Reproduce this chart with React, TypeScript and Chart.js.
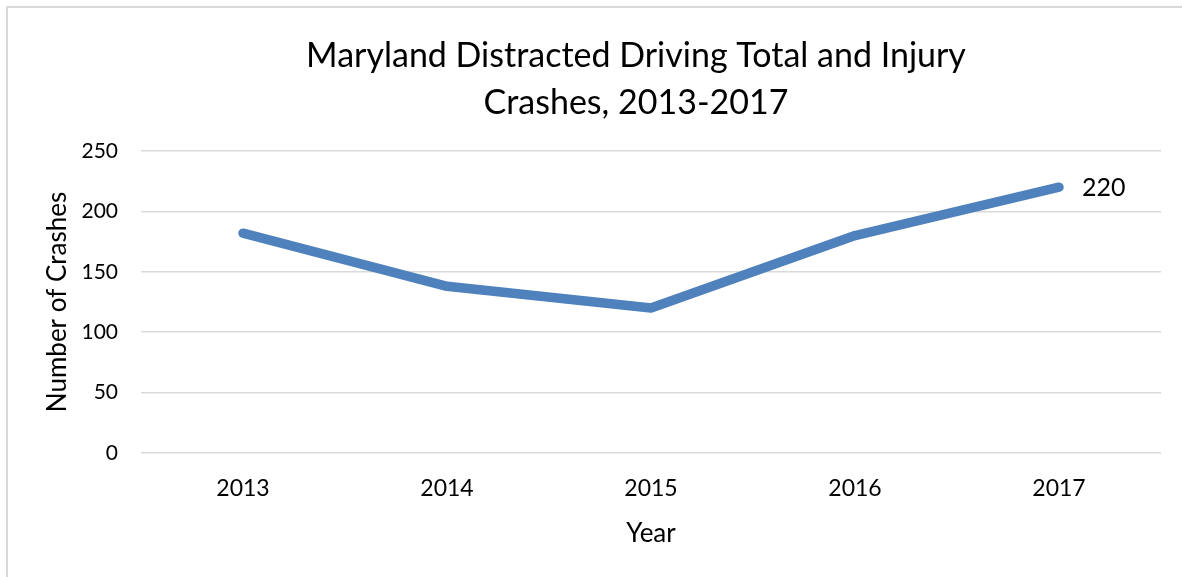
import React, { useEffect, useRef } from "react";
import { Chart, registerables } from "chart.js";

Chart.register(...registerables);

const years = ["2013", "2014", "2015", "2016", "2017"];
const crashes = [182, 138, 120, 180, 220];
const titleLines = ["Maryland Distracted Driving Total and Injury", "Crashes, 2013-2017"];
const yTitle = "Number of Crashes";
const xTitle = "Year";

const FONT = "Lato, 'Open Sans', sans-serif";

const frame = {
  id: "frame",
  beforeDraw(chart: any) {
    const ctx = chart.ctx;
    ctx.save();
    ctx.fillStyle = "#ffffff";
    ctx.fillRect(0, 0, chart.width, chart.height);
    ctx.strokeStyle = "#d9d9d9";
    ctx.lineWidth = 2;
    ctx.strokeRect(7, 7, chart.width + 20, chart.height + 20);
    ctx.restore();
  },
};

const chartTitle = {
  id: "chartTitle",
  afterDraw(chart: any) {
    const ctx = chart.ctx;
    ctx.save();
    ctx.font = `34px ${FONT}`;
    ctx.fillStyle = "#000";
    ctx.textAlign = "center";
    ctx.textBaseline = "middle";
    ctx.fillText(titleLines[0], 636, 56.5);
    ctx.fillText(titleLines[1], 636, 103.5);
    ctx.restore();
  },
};

const lastLabel = {
  id: "lastLabel",
  afterDatasetsDraw(chart: any) {
    const meta = chart.getDatasetMeta(0);
    const i = crashes.length - 1;
    const pt = meta.data[i];
    const ctx = chart.ctx;
    ctx.save();
    ctx.font = `25px ${FONT}`;
    ctx.fillStyle = "#000";
    ctx.textAlign = "left";
    ctx.textBaseline = "middle";
    ctx.fillText(String(crashes[i]), pt.x + 23, pt.y + 1);
    ctx.restore();
  },
};

export default function App() {
  const ref = useRef<HTMLCanvasElement | null>(null);
  useEffect(() => {
    if (!ref.current) return;
    const chart = new Chart(ref.current, {
      type: "line",
      data: {
        labels: years,
        datasets: [
          {
            data: crashes,
            borderColor: "#4f81bd",
            backgroundColor: "#4f81bd",
            borderWidth: 9.5,
            borderCapStyle: "round",
            borderJoinStyle: "round",
            pointRadius: 0,
            tension: 0,
          },
        ],
      },
      options: {
        animation: false,
        responsive: false,
        maintainAspectRatio: false,
        layout: { padding: { left: 0, right: 21, top: 151, bottom: 0 } },
        plugins: {
          legend: { display: false },
          tooltip: { enabled: false },
          title: { display: false },
        },
        scales: {
          x: {
            offset: true,
            grid: { display: false, drawTicks: false },
            border: { display: false },
            ticks: { color: "#000", font: { family: FONT, size: 23 }, padding: 22 },
            title: {
              display: true,
              text: xTitle,
              color: "#000",
              font: { family: FONT, size: 26 },
              padding: { top: 0, bottom: 27.4 },
            },
            afterFit(scale: any) {
              scale.height = 124;
            },
          },
          y: {
            min: 0,
            max: 250,
            ticks: { stepSize: 50, color: "#000", font: { family: FONT, size: 21 }, padding: 23 },
            grid: { color: "#d9d9d9", lineWidth: 1.5, drawTicks: false },
            border: { display: false },
            title: {
              display: true,
              text: yTitle,
              color: "#000",
              font: { family: FONT, size: 26 },
              padding: { top: 42.4, bottom: 0 },
            },
            afterFit(scale: any) {
              scale.width = 141;
            },
          },
        },
      },
      plugins: [frame, chartTitle, lastLabel],
    } as any);
    return () => chart.destroy();
  }, []);
  return (
    <canvas
      ref={ref}
      width={1182}
      height={577}
      style={{ position: "fixed", left: 0, top: 0, width: 1182, height: 577, display: "block" }}
    />
  );
}
